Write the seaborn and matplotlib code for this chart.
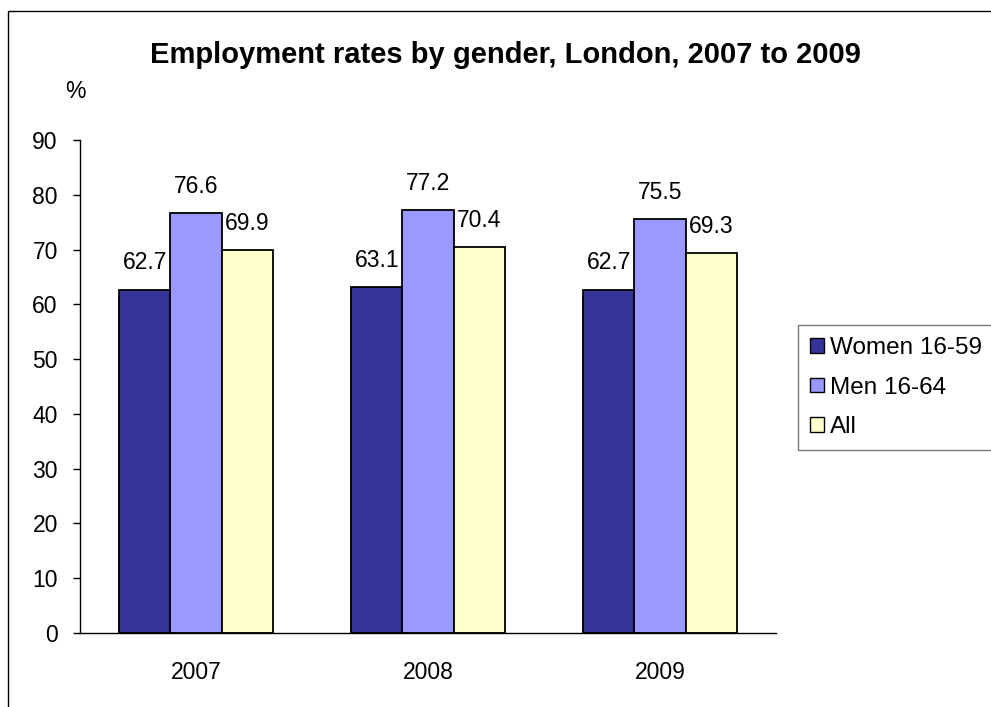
import matplotlib
matplotlib.use("Agg")
import matplotlib.pyplot as plt
import seaborn as sns
import pandas as pd
from matplotlib.patches import Rectangle, Patch

years = ["2007", "2008", "2009"]
series = ["Women 16-59", "Men 16-64", "All"]
women = [62.7, 63.1, 62.7]
men = [76.6, 77.2, 75.5]
all_people = [69.9, 70.4, 69.3]
colors = ["#333399", "#9999FF", "#FFFFCC"]
yticks = [0, 10, 20, 30, 40, 50, 60, 70, 80, 90]

df = pd.DataFrame({
    "year": years * 3,
    "series": [s for s in series for _ in years],
    "value": women + men + all_people,
})

sns.set_theme(style="white")
plt.rcParams["font.family"] = ["Liberation Sans", "DejaVu Sans"]
plt.rcParams.update({"text.color": "black", "axes.labelcolor": "black",
                     "xtick.color": "black", "ytick.color": "black"})

FS = 16.5
W, H = 991, 707
fig = plt.figure(figsize=(W / 100, H / 100), dpi=100)
ax = fig.add_axes([80 / W, (H - 633) / H, 696 / W, 493 / H])

sns.barplot(data=df, x="year", y="value", hue="series", hue_order=series,
            palette=colors, width=0.66, edgecolor="black", linewidth=1.3,
            saturation=1, legend=False, ax=ax, errorbar=None)

for cont in ax.containers:
    ax.bar_label(cont, labels=[f"{v:.1f}" for v in cont.datavalues],
                 padding=11, fontsize=FS, color="black")

ax.set_ylim(0, 90)
ax.set_xlim(-0.5, 2.5)
ax.set_yticks(yticks)
ax.set_yticklabels([str(t) for t in yticks], fontsize=FS)
ax.set_xticks([0, 1, 2])
ax.set_xticklabels(years, fontsize=FS)
ax.set_xticks([-0.5, 0.5, 1.5, 2.5], minor=True)
ax.tick_params(axis="x", which="major", length=0, pad=20)
ax.tick_params(axis="x", which="minor", length=5.5, width=1, color="black", direction="out")
ax.tick_params(axis="y", length=5, width=1, color="black", direction="out", pad=11, left=True)
ax.set_xlabel("")
ax.set_ylabel("")
for side in ["top", "right"]:
    ax.spines[side].set_visible(False)
for side in ["left", "bottom"]:
    ax.spines[side].set_color("black")
    ax.spines[side].set_linewidth(1)
ax.grid(False)

fig.text(505 / W, 1 - 55 / H, "Employment rates by gender, London, 2007 to 2009",
         ha="center", va="center", fontsize=21, fontweight="bold", color="black")
fig.text(75 / W, 1 - 91 / H, "%", ha="center", va="center", fontsize=FS)

handles = [Patch(facecolor=c, edgecolor="black", linewidth=1) for c in colors]
leg = fig.legend(handles, series, loc="upper left", mode="expand",
                 bbox_to_anchor=(798 / W, 1 - 446 / H, 230 / W, 121 / H),
                 fontsize=17.5, frameon=True, fancybox=False, edgecolor="#555555",
                 handlelength=0.55, handleheight=0.55, handletextpad=0.25,
                 labelspacing=0.72, borderpad=0.5, borderaxespad=0)
leg.get_frame().set_linewidth(1)

fig.patches.append(Rectangle((8 / W, -0.1), 1.2, 1 - 11 / H + 0.1,
                             transform=fig.transFigure, fill=False,
                             edgecolor="black", linewidth=1))

fig.savefig("out.png", dpi=100, facecolor="white")
